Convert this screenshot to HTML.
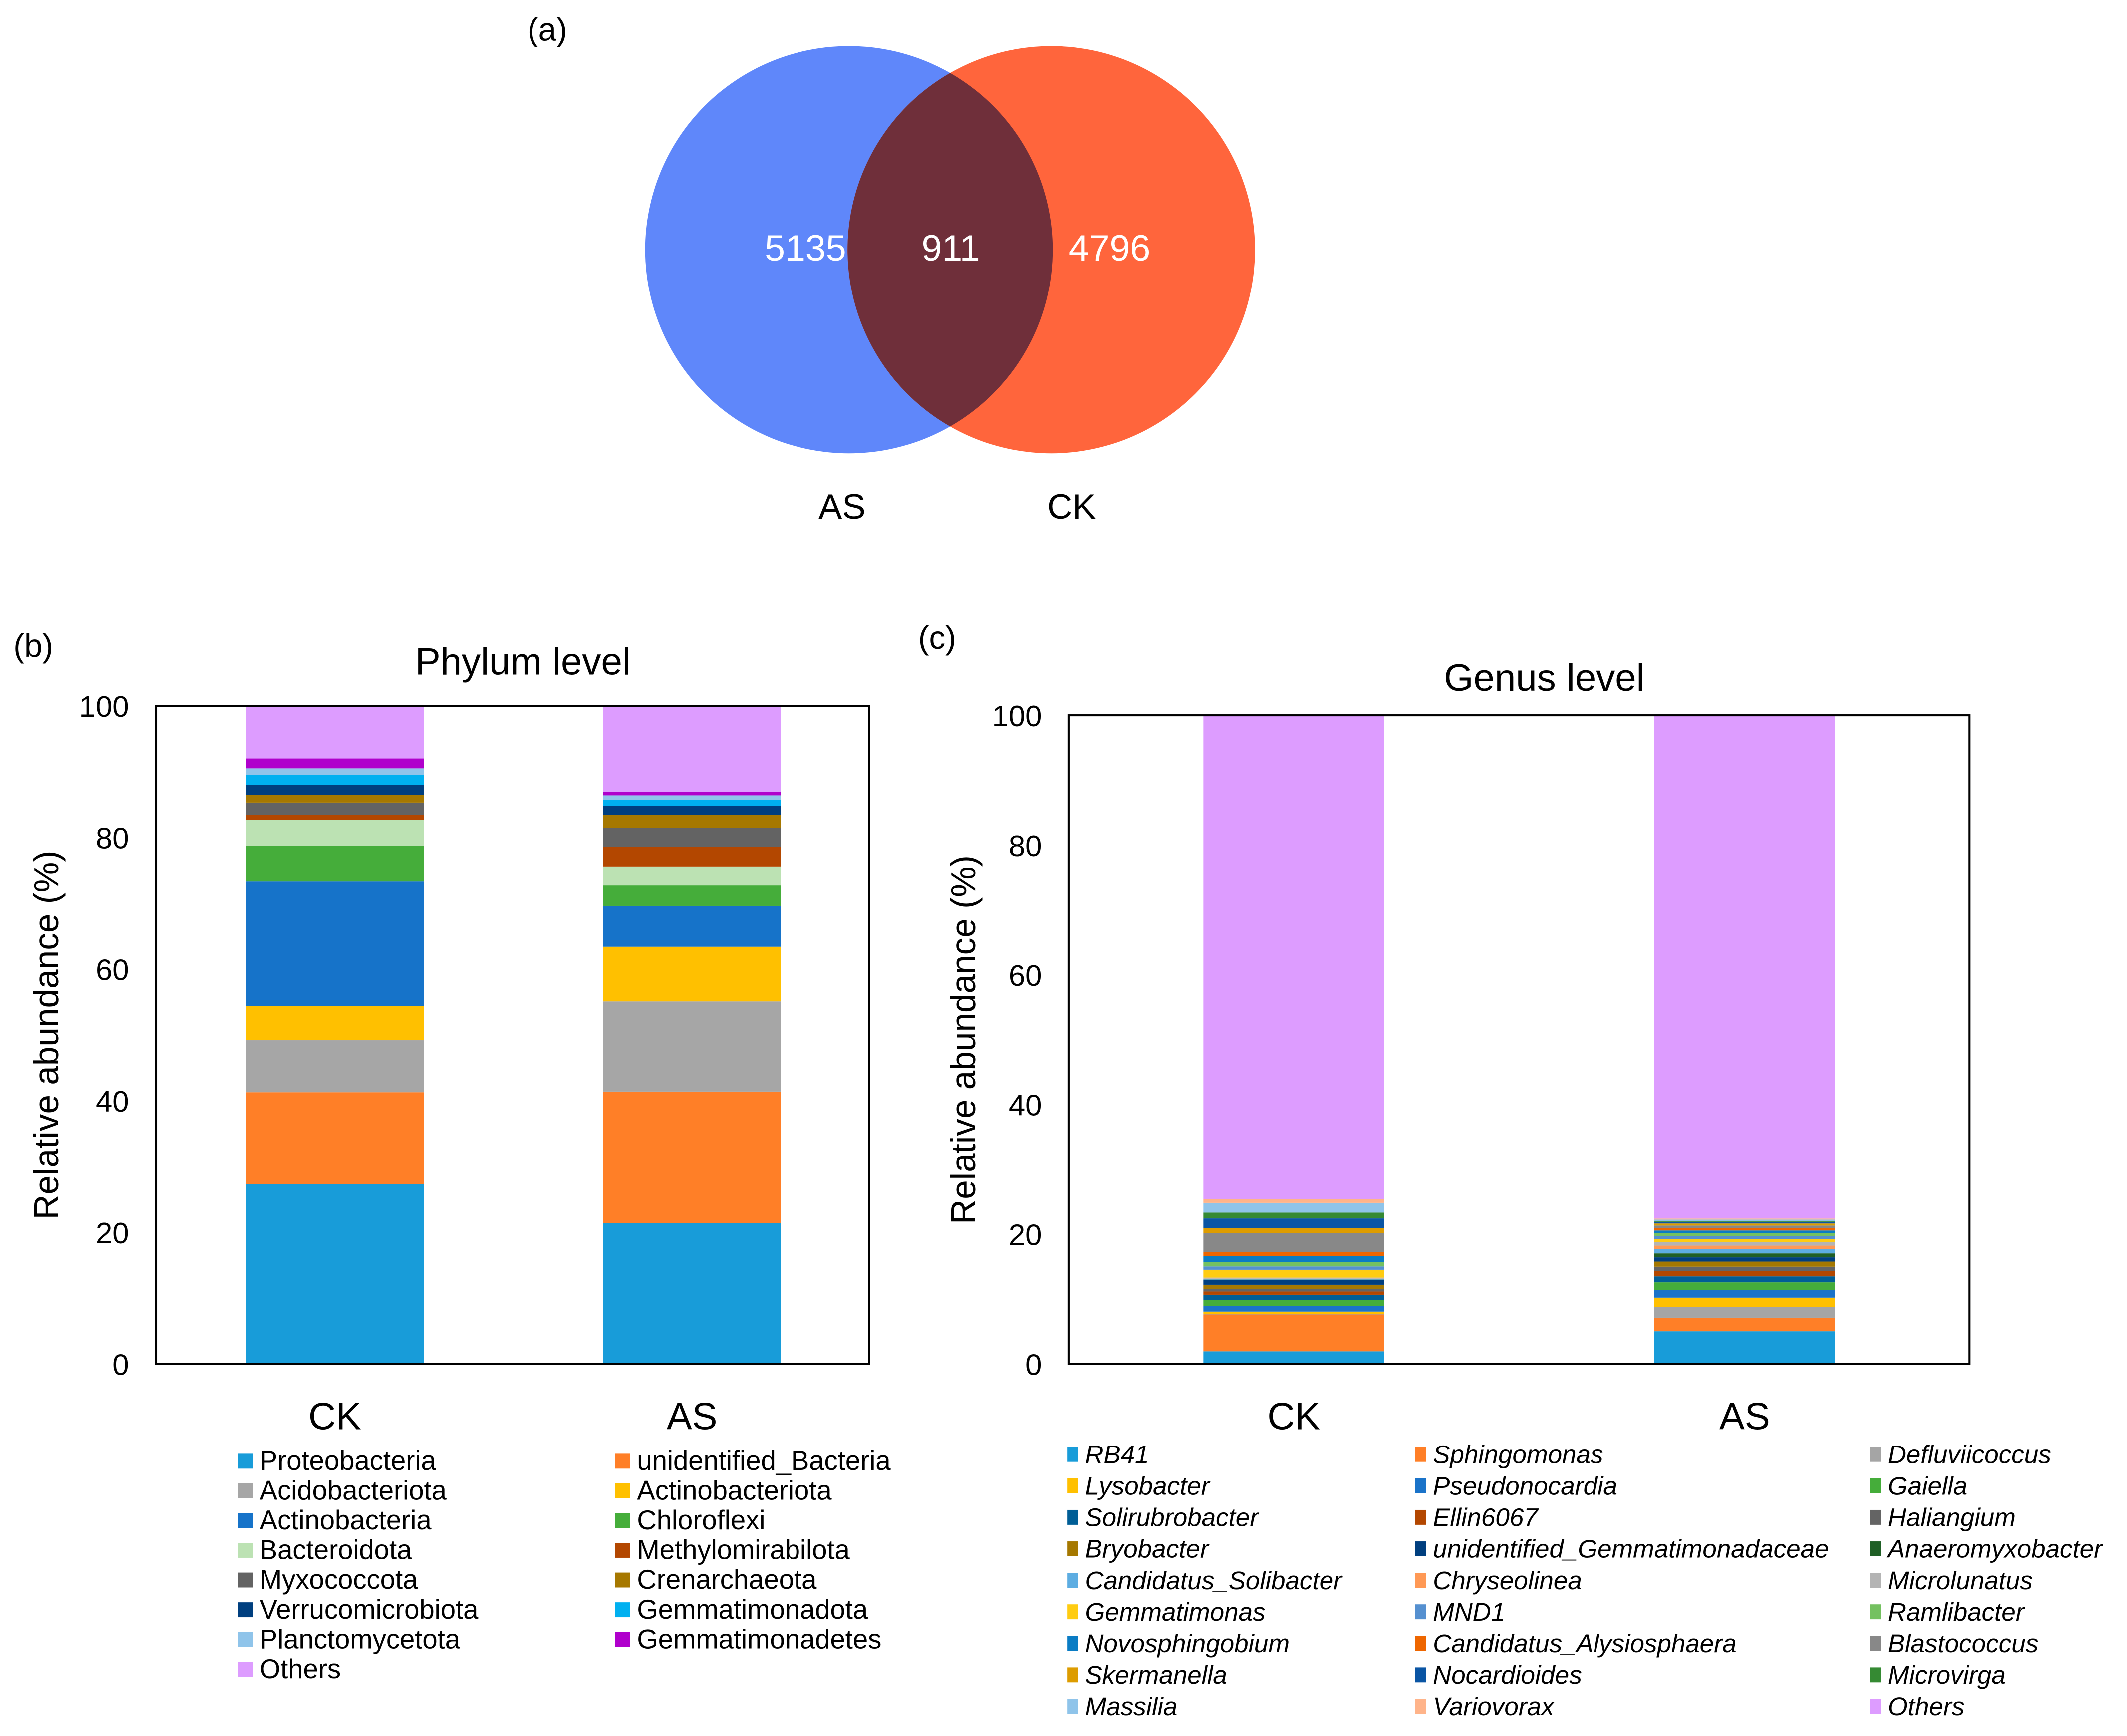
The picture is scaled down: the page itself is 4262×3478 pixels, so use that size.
<!DOCTYPE html>
<html><head><meta charset="utf-8"><style>
html,body{margin:0;padding:0;background:#fff}
svg{display:block}
text{font-family:"Liberation Sans",Arial,sans-serif;fill:#000}
</style></head><body>
<svg id="fig" width="4262" height="3478" viewBox="0 0 1566 1279" preserveAspectRatio="none" xmlns="http://www.w3.org/2000/svg">
<rect width="1570" height="1285" fill="#fff"/>
<g>
<text x="403" y="30" font-size="24" text-anchor="middle">(a)</text>
<defs><clipPath id="cb"><circle cx="625" cy="184" r="150"/></clipPath></defs>
<circle cx="625" cy="184" r="150" fill="#5f87fa"/>
<circle cx="774" cy="184" r="150" fill="#ff653c"/>
<circle cx="774" cy="184" r="150" fill="#6f2f3a" clip-path="url(#cb)"/>
<text x="593" y="192" font-size="27" style="fill:#fff" text-anchor="middle">5135</text>
<text x="700" y="192" font-size="27" style="fill:#fff" text-anchor="middle">911</text>
<text x="817" y="192" font-size="27" style="fill:#fff" text-anchor="middle">4796</text>
<text x="620" y="382" font-size="26" text-anchor="middle">AS</text>
<text x="789" y="382" font-size="26" text-anchor="middle">CK</text>
</g>
<g id="pb"></g>
<g id="pc"></g>
</svg>
<script>
const phylumNames=["Proteobacteria","unidentified_Bacteria","Acidobacteriota","Actinobacteriota","Actinobacteria","Chloroflexi","Bacteroidota","Methylomirabilota","Myxococcota","Crenarchaeota","Verrucomicrobiota","Gemmatimonadota","Planctomycetota","Gemmatimonadetes","Others"];
const phylumColors=["#189cd9","#ff7f27","#a6a6a6","#ffc000","#1673c9","#45ad3a","#bce2b3","#b34700","#636363","#a67800","#003f7f","#00b0f0","#8fc4ea","#b000cc","#dd9cff"];
const phylumCK=[27.3,14.0,7.9,5.2,18.9,5.4,4.0,0.7,1.9,1.2,1.5,1.5,1.0,1.5,8.1];
const phylumAS=[21.4,20.0,13.7,8.3,6.2,3.1,2.9,3.0,2.9,1.9,1.4,0.9,0.7,0.5,13.1];
const genusNames=["RB41","Sphingomonas","Defluviicoccus","Lysobacter","Pseudonocardia","Gaiella","Solirubrobacter","Ellin6067","Haliangium","Bryobacter","unidentified_Gemmatimonadaceae","Anaeromyxobacter","Candidatus_Solibacter","Chryseolinea","Microlunatus","Gemmatimonas","MND1","Ramlibacter","Novosphingobium","Candidatus_Alysiosphaera","Blastococcus","Skermanella","Nocardioides","Microvirga","Massilia","Variovorax","Others"];
const genusColors=["#189cd9","#ff7f27","#a5a5a5","#ffc000","#1a73c9","#45ad3a","#005e96","#b34700","#646464","#a57800","#003f7f","#1f5f26","#5dade2","#ff9955","#b4b4b4","#ffcc11","#5590d0","#74c160","#0a7cc4","#ee6600","#888888","#dd9c00","#0a55a4","#358a33","#8fc4ea","#ffb48a","#dd9cff"];
const genusCK=[1.97,5.68,0.05,0.39,0.87,0.92,0.81,0.5,0.41,0.63,0.74,0.05,0.1,0.05,0.16,1.21,0.51,0.7,0.9,0.6,2.9,0.8,1.5,0.9,1.5,0.6,74.6];
const genusAS=[5.06,2.09,1.63,1.46,1.16,1.2,0.92,0.84,0.65,0.79,0.65,0.61,0.63,0.57,0.53,0.47,0.47,0.44,0.42,0.40,0.36,0.32,0.26,0.11,0.23,0.16,77.9];
const sampleLabels=["CK","AS"];
const yTicks=[0,20,40,60,80,100];
const NS="http://www.w3.org/2000/svg";
function mk(p,t,a){const e=document.createElementNS(NS,t);for(const k in a)e.setAttribute(k,a[k]);p.appendChild(e);return e;}
function chart(g,o){
  const yS=v=>o.bot-(v/100)*(o.bot-o.top);
  const t=mk(g,"text",{x:o.panelX,y:o.panelY,"font-size":24});t.textContent=o.panel;
  
  
  const ti=mk(g,"text",{x:o.titleX,y:o.titleY,"font-size":28,"text-anchor":"middle"});ti.textContent=o.title;
  
  
  const series=[o.ck,o.as];
  series.forEach((vals,si)=>{
    let acc=0;const bx=o.barX[si];
    vals.forEach((v,i)=>{
      const r=mk(g,"rect",{x:bx,y:yS(Math.min(100,acc+v)),width:o.barW,height:Math.max(0,yS(acc)-yS(Math.min(100,acc+v))),fill:o.colors[i]});
      
      
      acc+=v;
    });
    const xl=mk(g,"text",{x:bx+o.barW/2,y:1053,"font-size":28,"text-anchor":"middle"});xl.textContent=sampleLabels[si];
    
    
  });
  const fr=mk(g,"rect",{x:o.left,y:o.top,width:o.right-o.left,height:o.bot-o.top,fill:"none",stroke:"#000","stroke-width":1.5});
  
  
  yTicks.forEach(v=>{
    const tl=mk(g,"text",{x:o.left-20,y:yS(v)+8,"font-size":22,"text-anchor":"end"});tl.textContent=v;
    
    
  });
  const yt=mk(g,"text",{x:0,y:0,"font-size":25.5,"text-anchor":"middle",transform:`translate(${o.ytX},${(o.top+o.bot)/2}) rotate(-90)`});yt.textContent="Relative abundance (%)";
  
  
  o.legend.forEach((col,ci)=>{
    col.forEach((idx,ri)=>{
      const y=o.legY+ri*o.legDy;
      const m=mk(g,"rect",{x:o.legX[ci],y:y-12,width:o.mk,height:11,fill:o.colors[idx]});
      
      
      const lt=mk(g,"text",{x:o.legX[ci]+o.mk+5,y:y,"font-size":o.legFs,"font-style":o.italic?"italic":"normal"});lt.textContent=o.names[idx];
      
      
    });
  });
}
chart(document.getElementById("pb"),{panel:"(b)",panelX:10,panelY:484,title:"Phylum level",titleX:385,titleY:497,
  left:115,right:640,top:520,bot:1005,barX:[181,444],barW:131,ck:phylumCK,as:phylumAS,colors:phylumColors,names:phylumNames,ytX:43,
  legend:[[0,2,4,6,8,10,12,14],[1,3,5,7,9,11,13]],legX:[175,453],legY:1083,legDy:21.9,mk:11,legFs:20,italic:false});
chart(document.getElementById("pc"),{panel:"(c)",panelX:676,panelY:478,title:"Genus level",titleX:1137,titleY:509,
  left:787,right:1450,top:527,bot:1005,barX:[886,1218],barW:133,ck:genusCK,as:genusAS,colors:genusColors,names:genusNames,ytX:718,
  legend:[[0,3,6,9,12,15,18,21,24],[1,4,7,10,13,16,19,22,25],[2,5,8,11,14,17,20,23,26]],legX:[786,1042,1377],legY:1078,legDy:23.2,mk:8,legFs:18.8,italic:true});
</script>
</body></html>
